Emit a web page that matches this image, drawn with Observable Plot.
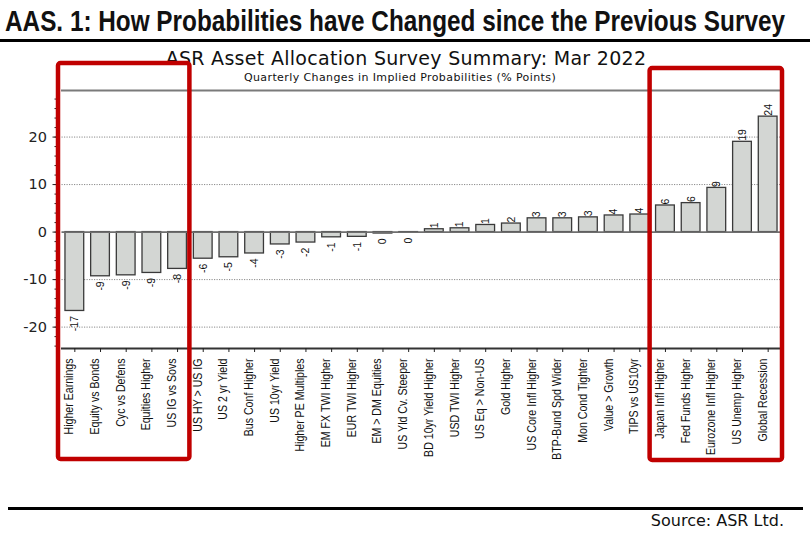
<!DOCTYPE html>
<html>
<head>
<meta charset="utf-8">
<script src="https://cdn.jsdelivr.net/npm/d3@7"></script>
<script src="https://cdn.jsdelivr.net/npm/@observablehq/plot@0.6"></script>
<style>
  html, body { margin: 0; padding: 0; background: #fff; }
  #page { position: relative; width: 810px; height: 542px; overflow: hidden; background: #fff; }
  .abs { position: absolute; }
  #title { left: 5px; top: 3px; font-family: "Liberation Sans", Arial, sans-serif; font-weight: bold; font-size: 29px; line-height: 36px; color: #111; white-space: nowrap; transform-origin: 0 0; }
  #rule1 { left: 0; top: 39px; width: 810px; height: 3px; background: #000; }
  #sub1 { left: 0; width: 812px; top: 47px; text-align: center; font-family: "DejaVu Sans", sans-serif; font-size: 19px; letter-spacing: 0.3px; line-height: 22px; color: #111; white-space: nowrap; }
  #sub2 { left: 0; width: 800px; top: 71px; text-align: center; font-family: "DejaVu Sans", sans-serif; font-size: 11px; letter-spacing: 0.4px; line-height: 14px; color: #111; white-space: nowrap; }
  #chart { left: 0; top: 80px; }
  #rule2 { left: 8px; top: 507px; width: 795px; height: 3px; background: #000; }
  #source { right: 26px; top: 511px; font-family: "DejaVu Sans", sans-serif; font-size: 16px; line-height: 20px; color: #111; white-space: nowrap; }
  #overlay { left: 0; top: 0; pointer-events: none; }
</style>
</head>
<body>
<div id="page">
  <div id="title" class="abs">AAS. 1: How Probabilities have Changed since the Previous Survey</div>
  <div id="rule1" class="abs"></div>
  <div id="sub1" class="abs">ASR Asset Allocation Survey Summary: Mar 2022</div>
  <div id="sub2" class="abs">Quarterly Changes in Implied Probabilities (% Points)</div>
  <div id="chart" class="abs"></div>
  <div id="rule2" class="abs"></div>
  <div id="source" class="abs">Source: ASR Ltd.</div>
</div>
<script>
const categories = [
  "Higher Earnings", "Equity vs Bonds", "Cyc vs Defens", "Equities Higher", "US IG vs Sovs",
  "US HY > US IG", "US 2 yr Yield", "Bus Conf Higher", "US 10yr Yield", "Higher PE Multiples",
  "EM FX TWI Higher", "EUR TWI Higher", "EM > DM Equities", "US Yld Cv. Steeper", "BD 10yr Yield Higher",
  "USD TWI Higher", "US Eq > Non-US", "Gold Higher", "US Core Infl Higher", "BTP-Bund Spd Wider",
  "Mon Cond Tighter", "Value > Growth", "TIPS vs US10yr", "Japan Infl Higher", "Fed Funds Higher",
  "Eurozone Infl Higher", "US Unemp Higher", "Global Recession"
];
const values = [
  -16.6, -9.3, -9.1, -8.6, -7.75,
  -5.6, -5.3, -4.5, -2.6, -2.2,
  -1.1, -1.0, -0.3, -0.1, 0.6,
  0.8, 1.5, 1.8, 2.9, 2.9,
  3.1, 3.5, 3.7, 5.6, 6.1,
  9.3, 19.0, 24.3
];
const valueLabels = [
  "-17", "-9", "-9", "-9", "-8",
  "-6", "-5", "-4", "-3", "-2",
  "-1", "-1", "0", "0", "1",
  "1", "1", "2", "3", "3",
  "3", "4", "4", "6", "6",
  "9", "19", "24"
];
const yTicks = [-20, -10, 0, 10, 20];
const yGrid = [-20, -10, 10, 20];
const yMinorTicks = d3.range(-24, 30, 2);

// condense the title to its reference width
const titleEl = document.getElementById("title");
const tw = titleEl.getBoundingClientRect().width;
titleEl.style.transform = `scaleX(${780 / tw})`;

const data = categories.map((c, i) => ({cat: c, v: values[i], lab: valueLabels[i]}));
const neg = data.filter(d => d.v < 0);
const pos = data.filter(d => d.v >= 0);

const sans = "'Liberation Sans', Arial, sans-serif";

const plot = Plot.plot({
  width: 810,
  height: 393,
  marginTop: 10,
  marginBottom: 125,
  marginLeft: 61.5,
  marginRight: 29.5,
  style: {fontFamily: sans, color: "#222", background: "transparent", overflow: "visible"},
  x: {domain: categories, paddingInner: 0.27, paddingOuter: 0.135, round: false, axis: null},
  y: {domain: [-24.5, 29.8], axis: null},
  marks: [
    Plot.gridY(yGrid, {stroke: "#8a8a8a", strokeOpacity: 1, strokeDasharray: "1.2,1.3"}),
    Plot.frame({anchor: "top", stroke: "#7a7a7a", strokeWidth: 2}),
    Plot.barY(data, {x: "cat", y: "v", fill: "#d3d6d3", stroke: "#3a3a3a", strokeWidth: 1.3}),
    Plot.ruleY([0], {stroke: "#6e6e6e", strokeWidth: 1.6}),
    Plot.frame({anchor: "bottom", stroke: "#333", strokeWidth: 2}),
    Plot.axisY({ticks: yTicks, tickSize: 5, dx: -4, tickPadding: 6, fontSize: 14.5, label: null,
      fontFamily: "'DejaVu Sans', sans-serif", tickFormat: d => String(d)}),
    Plot.axisY({ticks: yMinorTicks, tickSize: 3, dx: -4, label: null, tickFormat: () => ""}),
    Plot.axisX({tickSize: 4, label: null, tickFormat: () => ""}),
    Plot.text(neg, {x: "cat", y: "v", text: "lab", rotate: -90, textAnchor: "end", dy: 5,
      fontSize: 10.5, fill: "#111"}),
    Plot.text(pos, {x: "cat", y: "v", text: "lab", rotate: -90, textAnchor: "start", dy: -1,
      fontSize: 10.5, fill: "#111"}),
    Plot.text(categories, {x: d => d, frameAnchor: "bottom", rotate: -90, textAnchor: "end",
      lineAnchor: "bottom", dy: 10, dx: -1.5, fontSize: 13, fill: "#111"})
  ]
});
document.getElementById("chart").appendChild(plot);

// condense category labels along their reading direction
const catSet = new Set(categories);
const catTexts = Array.from(plot.querySelectorAll("text")).filter(t => catSet.has(t.textContent));
const ref = catTexts.find(t => t.textContent === "Higher Earnings");
const k = ref ? 76 / ref.getComputedTextLength() : 1;
for (const t of catTexts) {
  t.setAttribute("transform", (t.getAttribute("transform") || "") + ` scale(${k},1)`);
}

// Red highlight boxes around the first five and last five categories
const xs = plot.scale("x");
const gap = (xs.step - xs.bandwidth) / 2;
const stepStart = c => xs.apply(c) - gap;
const stepEnd = c => xs.apply(c) + xs.bandwidth + gap;
const boxes = [
  {x1: stepStart(categories[0]) - 3.5, x2: stepEnd(categories[4]) - 0.5, y1: 63, y2: 459},
  {x1: stepStart(categories[23]) - 2.5, x2: stepEnd(categories[27]) + 1.5, y1: 68, y2: 460}
];
const ns = "http://www.w3.org/2000/svg";
const ov = document.createElementNS(ns, "svg");
ov.setAttribute("id", "overlay");
ov.setAttribute("class", "abs");
ov.setAttribute("width", 810);
ov.setAttribute("height", 542);
for (const b of boxes) {
  const r = document.createElementNS(ns, "rect");
  r.setAttribute("x", b.x1);
  r.setAttribute("y", b.y1);
  r.setAttribute("width", b.x2 - b.x1);
  r.setAttribute("height", b.y2 - b.y1);
  r.setAttribute("rx", 2.5);
  r.setAttribute("fill", "none");
  r.setAttribute("stroke", "#c00000");
  r.setAttribute("stroke-width", 4.5);
  ov.appendChild(r);
}
document.getElementById("page").appendChild(ov);
</script>
</body>
</html>
